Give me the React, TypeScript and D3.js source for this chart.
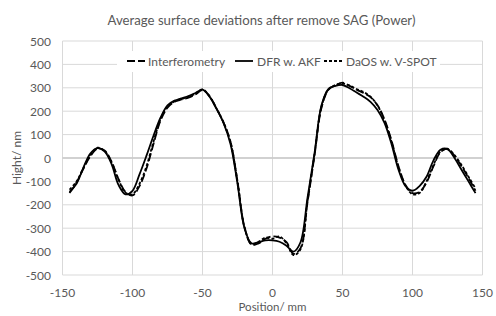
import * as d3 from 'd3';

// positions (mm) at which the curves were read
const positions = [
  -145, -140, -135, -130, -125, -120, -115, -110, -105, -100, -95, -90, -85, -80, -75, -70, -65, -60, -55, -50,
  -45, -40, -35, -30, -25, -20, -15, -10, -5, 0, 5, 10, 15, 20, 25, 30, 35, 40, 45, 50,
  55, 60, 65, 70, 75, 80, 85, 90, 95, 100, 105, 110, 115, 120, 125, 130, 135, 140, 145,
];

const interferometry = [
  -150, -105, -45, 8, 40, 32, -15, -90, -145, -160, -120, -45, 60, 160, 215, 240, 250, 258, 272, 290,
  265, 212, 152, 70, -100, -295, -370, -365, -345, -335, -340, -360, -410, -385, -190, 10, 215, 292, 310, 322,
  308, 292, 278, 260, 225, 165, 75, -35, -115, -150, -145, -105, -35, 25, 40, 10, -35, -85, -140,
];

const dfr = [
  -145, -110, -40, 20, 42, 28, -25, -115, -155, -140, -70, 10, 95, 172, 225, 245, 255, 265, 278, 292,
  262, 210, 150, 60, -110, -300, -365, -360, -352, -352, -358, -375, -400, -360, -170, 20, 225, 295, 308, 312,
  298, 280, 262, 240, 205, 150, 60, -50, -120, -140, -120, -80, -10, 35, 38, 0, -50, -100, -150,
];

const daos = [
  -135, -100, -42, 12, 44, 30, -18, -92, -148, -155, -110, -35, 70, 165, 220, 242, 252, 262, 275, 293,
  264, 212, 152, 68, -100, -295, -368, -358, -340, -345, -335, -365, -415, -390, -185, 15, 220, 293, 312, 318,
  310, 295, 282, 262, 225, 160, 70, -40, -118, -155, -150, -100, -30, 28, 38, 12, -30, -80, -130,
];

const xTicks = [-150, -100, -50, 0, 50, 100, 150];
const yTicks = [-500, -400, -300, -200, -100, 0, 100, 200, 300, 400, 500];

const series = [
  { name: 'Interferometry', values: interferometry, dash: '8,3', lx: 127, tx: 148 },
  { name: 'DFR w. AKF', values: dfr, dash: null, lx: 235, tx: 257 },
  { name: 'DaOS w. V-SPOT', values: daos, dash: '3,2', lx: 324, tx: 346 },
];

const width = 496;
const height = 316;
const font = 'Lato, Carlito, sans-serif';
const textColor = '#595959';

export default function App() {
  const x = d3.scaleLinear().domain([-150, 150]).range([62.5, 482.5]);
  const y = d3.scaleLinear().domain([-500, 500]).range([275, 41]);

  const line = d3
    .line<number>()
    .x((_, i) => x(positions[i]))
    .y((d) => y(d))
    .curve(d3.curveCatmullRom.alpha(0.5));

  return (
    <svg
      width={width}
      height={height}
      style={{ position: 'absolute', left: 0, top: 0, background: '#fff' }}
      fontFamily={font}
    >
      <rect width={width} height={height} fill="#fff" />
      <text x={261.5} y={24.5} textAnchor="middle" fontSize={13.2} fill={textColor}>
        Average surface deviations after remove SAG (Power)
      </text>

      {/* gridlines */}
      {yTicks.map((t) => (
        <line key={'gy' + t} x1={x(-150)} x2={x(150)} y1={y(t)} y2={y(t)} stroke="#d9d9d9" strokeWidth={1} />
      ))}
      {xTicks.map((t) => (
        <line key={'gx' + t} x1={x(t)} x2={x(t)} y1={y(500)} y2={y(-500)} stroke="#d9d9d9" strokeWidth={1} />
      ))}
      <line x1={x(-150)} x2={x(150)} y1={y(0)} y2={y(0)} stroke="#c8c8c8" strokeWidth={1.5} />

      {/* tick labels */}
      {yTicks.map((t) => (
        <text key={'ty' + t} x={51} y={y(t) + 4.5} textAnchor="end" fontSize={12} fill={textColor}>
          {t}
        </text>
      ))}
      {xTicks.map((t) => (
        <text key={'tx' + t} x={x(t)} y={297} textAnchor="middle" fontSize={12} fill={textColor}>
          {t}
        </text>
      ))}

      <text x={272.5} y={311} textAnchor="middle" fontSize={11.5} fill={textColor}>
        Position/ mm
      </text>
      <text
        transform={`translate(21,${y(0)}) rotate(-90)`}
        textAnchor="middle"
        fontSize={12}
        fill={textColor}
      >
        Hight/ nm
      </text>

      {/* curves */}
      {series.map((s) => (
        <path
          key={s.name}
          d={line(s.values) ?? ''}
          fill="none"
          stroke="#000"
          strokeWidth={1.8}
          strokeDasharray={s.dash ?? undefined}
        />
      ))}

      {/* legend */}
      <rect x={117} y={51} width={323} height={21} fill="#fff" />
      {series.map((s) => (
        <g key={'lg' + s.name}>
          <line
            x1={s.lx}
            x2={s.lx + 18}
            y1={61}
            y2={61}
            stroke="#000"
            strokeWidth={1.8}
            strokeDasharray={s.dash ?? undefined}
          />
          <text x={s.tx} y={65.5} fontSize={12} fill={textColor}>
            {s.name}
          </text>
        </g>
      ))}
    </svg>
  );
}
